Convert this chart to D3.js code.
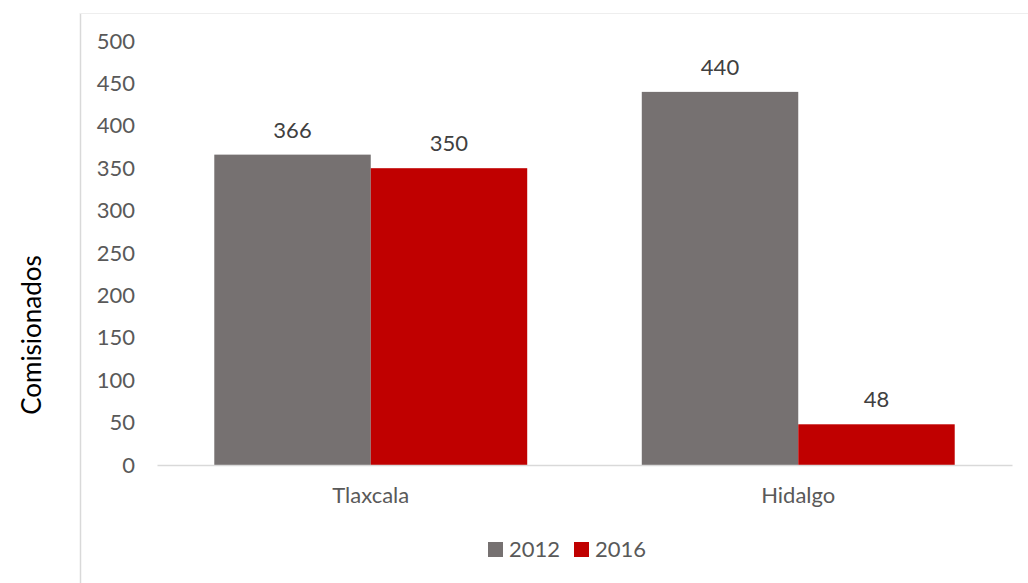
<!DOCTYPE html>
<html>
<head>
<meta charset="utf-8">
<script src="https://cdn.jsdelivr.net/npm/d3@7/dist/d3.min.js"></script>
<style>
  html, body { margin: 0; padding: 0; background: #fff; }
  svg { display: block; }
  text { font-family: Lato, "Open Sans", sans-serif; }
</style>
</head>
<body>
<svg id="chart" width="1028" height="583"></svg>
<script>
// Data
const categories = ["Tlaxcala", "Hidalgo"];
const seriesNames = ["2012", "2016"];
const values2012 = [366, 440];
const values2016 = [350, 48];
const yTicks = [0, 50, 100, 150, 200, 250, 300, 350, 400, 450, 500];
const yTitle = "Comisionados";

const colors = { "2012": "#767171", "2016": "#C00000" };
const textColor = "#595959";
const fontSize = 22;

const svg = d3.select("#chart");
const W = 1028, H = 583;

// Chart area frame (partly cropped)
svg.append("line").attr("x1", 80.5).attr("x2", 80.5).attr("y1", 13).attr("y2", H)
  .attr("stroke", "#d9d9d9").attr("stroke-width", 1.5);
svg.append("line").attr("x1", 80).attr("x2", W).attr("y1", 13.5).attr("y2", 13.5)
  .attr("stroke", "#eeeeee").attr("stroke-width", 1);

const plot = { left: 157, right: 1012, top: 41, bottom: 465 };

const x0 = d3.scaleBand().domain(categories)
  .range([plot.left, plot.right]).paddingInner(0.268).paddingOuter(0.134);
const x1 = d3.scaleBand().domain(seriesNames).range([0, x0.bandwidth()]);
const y = d3.scaleLinear().domain([0, 500]).range([plot.bottom, plot.top]);

const rows = categories.map((c, i) => ({
  category: c,
  items: [
    { series: "2012", value: values2012[i] },
    { series: "2016", value: values2016[i] }
  ]
}));

// Y axis labels
const yAxis = d3.axisLeft(y).tickValues(yTicks).tickSize(0).tickPadding(0);
const yg = svg.append("g").attr("transform", `translate(135,0)`).call(yAxis);
yg.select(".domain").remove();
yg.selectAll("text").attr("fill", textColor).attr("font-size", fontSize)
  .attr("font-family", "Lato, sans-serif");

// Bars
const groups = svg.append("g").selectAll("g").data(rows).join("g")
  .attr("transform", d => `translate(${x0(d.category)},0)`);

groups.selectAll("rect").data(d => d.items).join("rect")
  .attr("x", d => x1(d.series))
  .attr("y", d => y(d.value))
  .attr("width", x1.bandwidth())
  .attr("height", d => y(0) - y(d.value))
  .attr("fill", d => colors[d.series]);

// Value labels
groups.selectAll("text.val").data(d => d.items).join("text")
  .attr("class", "val")
  .attr("x", d => x1(d.series) + x1.bandwidth() / 2)
  .attr("y", d => y(d.value) - 17)
  .attr("text-anchor", "middle")
  .attr("fill", "#404040")
  .attr("font-size", fontSize)
  .text(d => d.value);

// Baseline
const xAxis = d3.axisBottom(x0).tickSize(0).tickPadding(22);
const xg = svg.append("g").attr("transform", `translate(0,${plot.bottom})`).call(xAxis);
xg.select(".domain").attr("stroke", "#d9d9d9").attr("stroke-width", 1.5);
xg.selectAll("text").attr("fill", textColor).attr("font-size", fontSize)
  .attr("font-family", "Lato, sans-serif");

// Y title
svg.append("text")
  .attr("transform", "translate(41,335) rotate(-90)")
  .attr("text-anchor", "middle")
  .attr("fill", "#000")
  .attr("font-size", 26)
  .text(yTitle);

// Legend
const legendItems = [
  { name: "2012", x: 488 },
  { name: "2016", x: 574 }
];
const lg = svg.append("g").selectAll("g").data(legendItems).join("g")
  .attr("transform", d => `translate(${d.x},542)`);
lg.append("rect").attr("width", 15).attr("height", 15).attr("fill", d => colors[d.name]);
lg.append("text").attr("x", 21).attr("y", 15)
  .attr("fill", textColor).attr("font-size", fontSize).text(d => d.name);
</script>
</body>
</html>
